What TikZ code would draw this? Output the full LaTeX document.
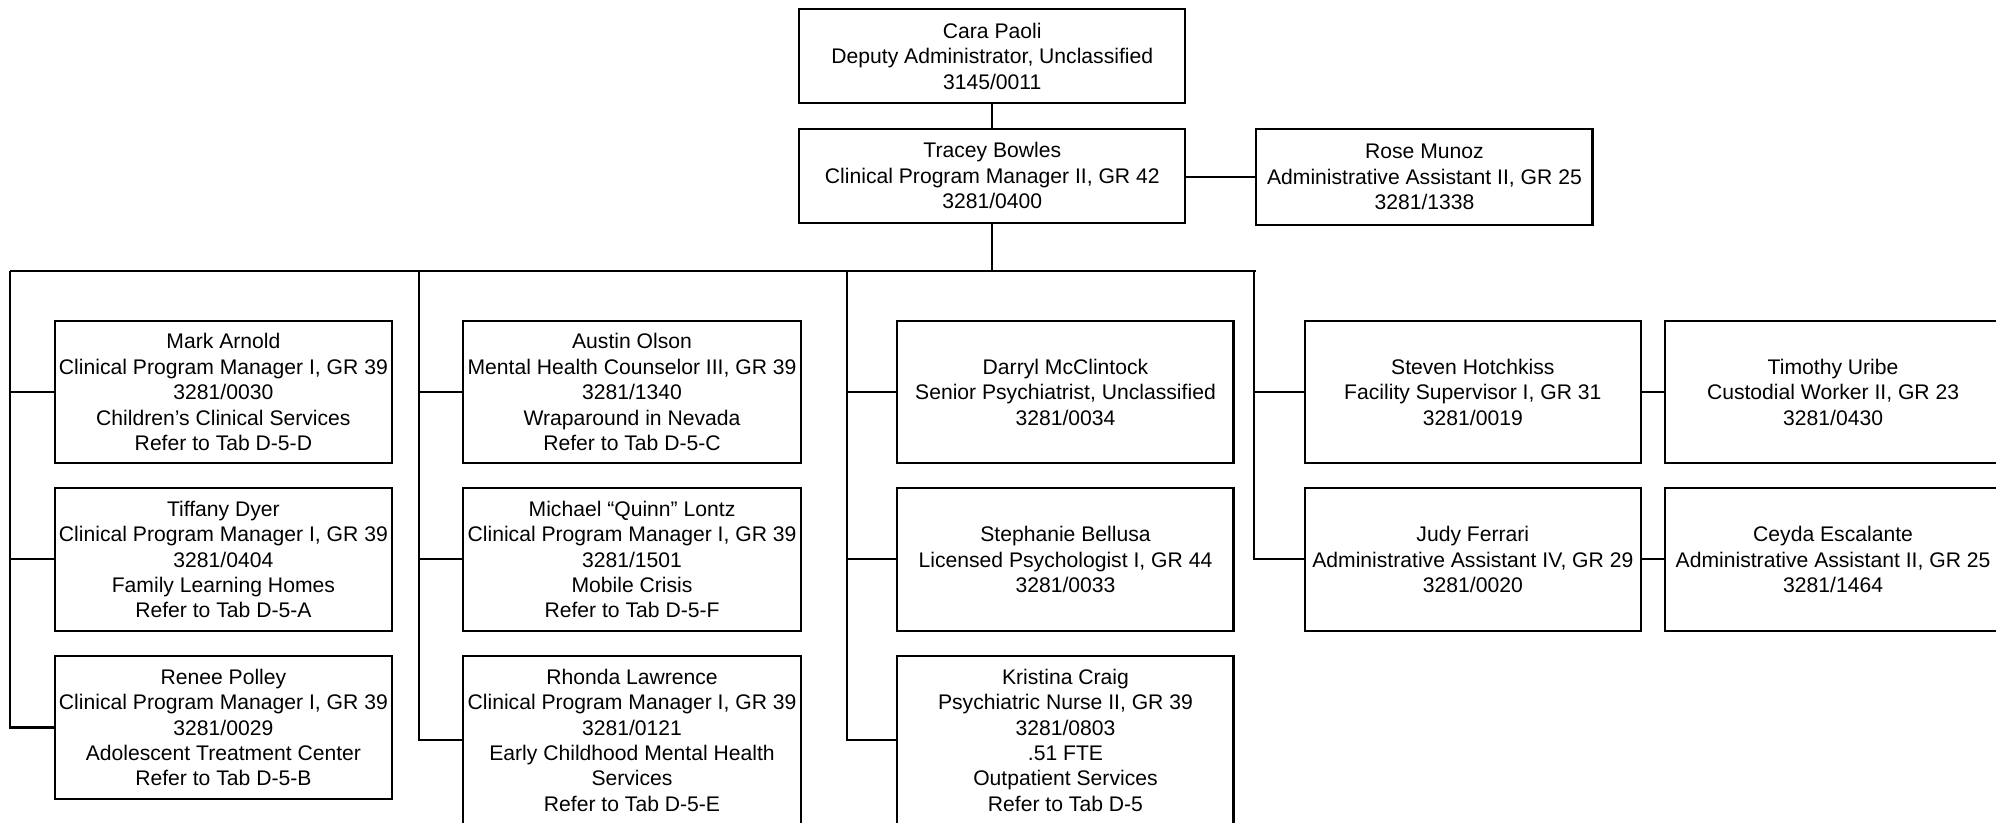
\documentclass[tikz,border=0pt]{standalone}
\usepackage{fontspec}
\setmainfont{Liberation Sans}
\begin{document}
\begin{tikzpicture}[x=1pt,y=-1pt,
  box/.style={draw=black, line width=1.6pt, align=center, inner sep=0pt,
    font=\fontsize{16.6}{20}\selectfont, minimum width=#1},
  box/.default=265pt,
  conn/.style={line width=1.6pt, black}]
\useasboundingbox (0,0) rectangle (1568,646);
\clip (0,0) rectangle (1568,646);
% top
\node[box=303pt, minimum height=74pt] (cara) at (779.5,44) {Cara Paoli\\Deputy Administrator, Unclassified\\3145/0011};
\node[box=303pt, minimum height=74pt] (tracey) at (779.5,138) {Tracey Bowles\\Clinical Program Manager II, GR 42\\3281/0400};
\node[box=264pt, minimum height=76pt] (rose) at (1119,139) {Rose Munoz\\Administrative Assistant II, GR 25\\3281/1338};
% column 1
\node[box, minimum height=112pt] (mark) at (175.5,308) {Mark Arnold\\Clinical Program Manager I, GR 39\\3281/0030\\Children’s Clinical Services\\Refer to Tab D-5-D};
\node[box, minimum height=113pt] (tiffany) at (175.5,439.5) {Tiffany Dyer\\Clinical Program Manager I, GR 39\\3281/0404\\Family Learning Homes\\Refer to Tab D-5-A};
\node[box, minimum height=113pt] (renee) at (175.5,571.5) {Renee Polley\\Clinical Program Manager I, GR 39\\3281/0029\\Adolescent Treatment Center\\Refer to Tab D-5-B};
% column 2
\node[box, minimum height=112pt] (austin) at (496.5,308) {Austin Olson\\Mental Health Counselor III, GR 39\\3281/1340\\Wraparound in Nevada\\Refer to Tab D-5-C};
\node[box, minimum height=113pt] (michael) at (496.5,439.5) {Michael “Quinn” Lontz\\Clinical Program Manager I, GR 39\\3281/1501\\Mobile Crisis\\Refer to Tab D-5-F};
\node[box, minimum height=133pt] (rhonda) at (496.5,581.5) {Rhonda Lawrence\\Clinical Program Manager I, GR 39\\3281/0121\\Early Childhood Mental Health\\Services\\Refer to Tab D-5-E};
% column 3
\node[box=264pt, minimum height=112pt] (darryl) at (837,308) {Darryl McClintock\\Senior Psychiatrist, Unclassified\\3281/0034};
\node[box=264pt, minimum height=113pt] (stephanie) at (837,439.5) {Stephanie Bellusa\\Licensed Psychologist I, GR 44\\3281/0033};
\node[box=264pt, minimum height=133pt] (kristina) at (837,581.5) {Kristina Craig\\Psychiatric Nurse II, GR 39\\3281/0803\\.51 FTE\\Outpatient Services\\Refer to Tab D-5};
% column 4
\node[box=264pt, minimum height=112pt] (steven) at (1157,308) {Steven Hotchkiss\\Facility Supervisor I, GR 31\\3281/0019};
\node[box=264pt, minimum height=113pt] (judy) at (1157,439.5) {Judy Ferrari\\Administrative Assistant IV, GR 29\\3281/0020};
% column 5
\node[box=264pt, minimum height=112pt] (timothy) at (1440,308) {Timothy Uribe\\Custodial Worker II, GR 23\\3281/0430};
\node[box=264pt, minimum height=113pt] (ceyda) at (1440,439.5) {Ceyda Escalante\\Administrative Assistant II, GR 25\\3281/1464};
% bus coordinates
\coordinate (bus) at (779.5,213);
\coordinate (v1) at (8,213);
\coordinate (v2) at (329,213);
\coordinate (v3) at (665,213);
\coordinate (v4) at (985,213);
\coordinate (busend) at (987,213);
% connectors
\draw[conn] (cara.south) -- (tracey.north);
\draw[conn] (rose.west -| tracey.east) -- (rose.west);
\draw[conn] (tracey.south) -- (bus);
\draw[conn] (v1) -- (busend);
\draw[conn] (v1) |- (mark.west);
\draw[conn] (v1) |- (tiffany.west);
\draw[conn] (v1) |- (renee.west);
\draw[conn] (v2) |- (austin.west);
\draw[conn] (v2) |- (michael.west);
\draw[conn] (v2) |- (rhonda.west);
\draw[conn] (v3) |- (darryl.west);
\draw[conn] (v3) |- (stephanie.west);
\draw[conn] (v3) |- (kristina.west);
\draw[conn] (v4) |- (steven.west);
\draw[conn] (v4) |- (judy.west);
\draw[conn] (steven.east) -- (timothy.west);
\draw[conn] (judy.east) -- (ceyda.west);
\end{tikzpicture}
\end{document}
